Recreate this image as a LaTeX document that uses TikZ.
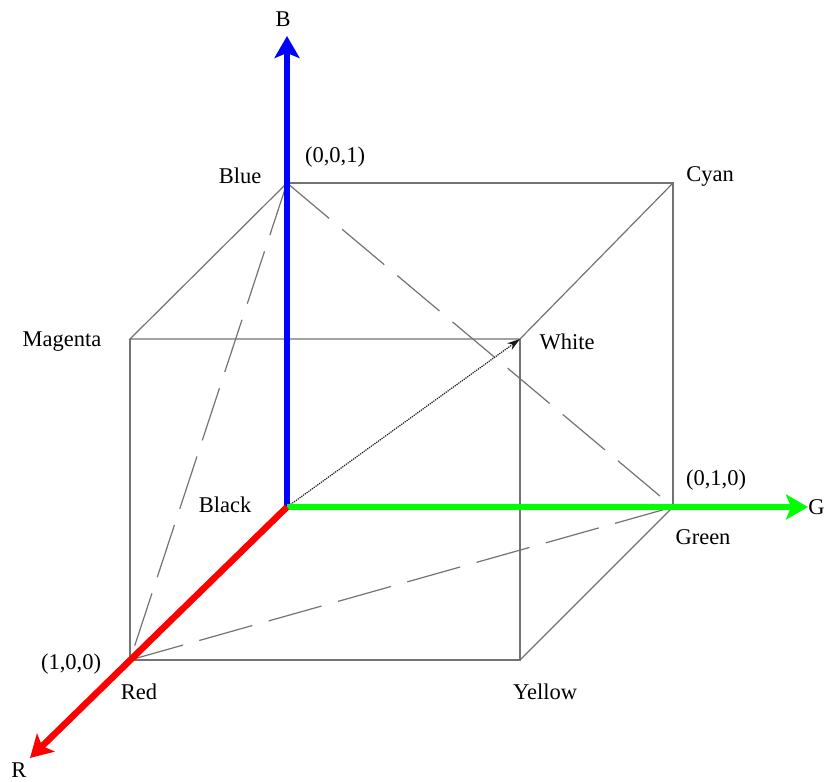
\documentclass[tikz,border=0pt]{standalone}
\usepackage{fontspec}
\setmainfont{Liberation Serif}
\usetikzlibrary{arrows.meta}
\begin{document}
\begin{tikzpicture}[x=1pt,y=-1pt,
  edge/.style={draw=black!55,line width=1.2pt},
  diag/.style={draw=black!55,line width=1.2pt,dash pattern=on 55pt off 17pt},
  axis/.style={line width=6.5pt,-{Stealth[length=22pt,width=25pt,inset=5pt]}},
  lbl/.style={font=\fontsize{22.5}{26}\selectfont,inner sep=0pt}]
\useasboundingbox (0,0) rectangle (826,781);
\fill[white] (0,0) rectangle (826,781);
% vertices
\coordinate (K) at (287,507);
\coordinate (Bl) at (287,183);
\coordinate (Cy) at (673,183);
\coordinate (Gr) at (673,507);
\coordinate (Rd) at (130,660);
\coordinate (Mg) at (130,339);
\coordinate (Wh) at (520,339);
\coordinate (Ye) at (520,660);
\coordinate (Btip) at (287,36);
\coordinate (Gtip) at (808,507);
\coordinate (Rtip) at (30,758);
% cube edges
\draw[edge] (Bl) -- (Cy) -- (Gr);
\draw[edge] (Bl) -- (Mg) -- (Wh) -- (Cy);
\draw[edge] (Mg) -- (Rd) -- (Ye) -- (Wh);
\draw[edge] (Ye) -- (Gr);
% dashed diagonals
\draw[diag] (Bl) -- (Rd);
\draw[diag] (Bl) -- (Gr);
\draw[diag] (Rd) -- (Gr);
% black-white arrow
\draw[black!90,line width=1.2pt,densely dotted,-{Stealth[length=13pt,width=8pt]}] (K) -- (Wh);
% axes
\draw[axis,color={rgb,255:red,0;green,0;blue,255}] (K) -- (Btip);
\draw[axis,color={rgb,255:red,0;green,255;blue,0}] (K) -- (Gtip);
\draw[axis,color={rgb,255:red,255;green,0;blue,0}] (K) -- (Rtip);
% labels
\node[lbl] (lB) at (283,19) {B};
\node[lbl] (lG) at (816.5,507) {G};
\node[lbl] (lR) at (19,770) {R};
\node[lbl] (l001) at (335,157) {(0,0,1)};
\node[lbl] (lBlue) at (240,176) {Blue};
\node[lbl] (lCyan) at (710,176) {Cyan};
\node[lbl] (lMag) at (62,342) {Magenta};
\node[lbl] (lWhite) at (567,342) {White};
\node[lbl] (lBlack) at (225,505) {Black};
\node[lbl] (l010) at (716,480) {(0,1,0)};
\node[lbl] (lGreen) at (703,537) {Green};
\node[lbl] (l100) at (71,664) {(1,0,0)};
\node[lbl] (lRed) at (139,692) {Red};
\node[lbl] (lYellow) at (545,692) {Yellow};
\end{tikzpicture}
\end{document}
